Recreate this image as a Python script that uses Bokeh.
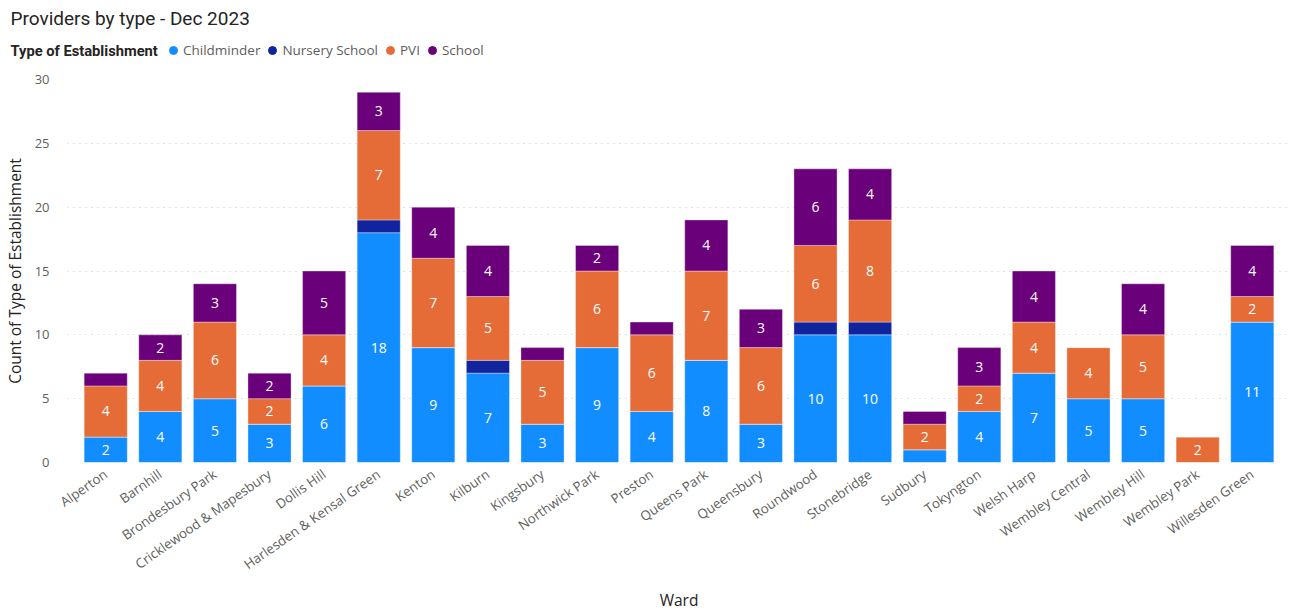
from bokeh.plotting import figure
from bokeh.layouts import column
from bokeh.models import (ColumnDataSource, FactorRange, Range1d, Legend, LegendItem, Label)
from bokeh.core.properties import value
from bokeh.embed import file_html
from bokeh.resources import INLINE
import numpy as np

wards = ["Alperton", "Barnhill", "Brondesbury Park", "Cricklewood & Mapesbury", "Dollis Hill",
         "Harlesden & Kensal Green", "Kenton", "Kilburn", "Kingsbury", "Northwick Park",
         "Preston", "Queens Park", "Queensbury", "Roundwood", "Stonebridge", "Sudbury",
         "Tokyngton", "Welsh Harp", "Wembley Central", "Wembley Hill", "Wembley Park",
         "Willesden Green"]
childminder = [2, 4, 5, 3, 6, 18, 9, 7, 3, 9, 4, 8, 3, 10, 10, 1, 4, 7, 5, 5, 0, 11]
nursery_school = [0, 0, 0, 0, 0, 1, 0, 1, 0, 0, 0, 0, 0, 1, 1, 0, 0, 0, 0, 0, 0, 0]
pvi = [4, 4, 6, 2, 4, 7, 7, 5, 5, 6, 6, 7, 6, 6, 8, 2, 2, 4, 4, 5, 2, 2]
school = [1, 2, 3, 2, 5, 3, 4, 4, 1, 2, 1, 4, 3, 6, 4, 1, 3, 4, 0, 4, 0, 4]

series = ["Childminder", "Nursery School", "PVI", "School"]
colors = ["#118DFF", "#12239E", "#E66C37", "#6B007B"]
y_ticks = [0, 5, 10, 15, 20, 25, 30]

TITLE_FONT = "Roboto"
FONT = "Open Sans"
GRAY = "#605E5C"
DARK = "#252423"

W, HEAD_H, MAIN_H = 1290, 69, 545
LEFT = 66  # main frame left edge

# ---------------- header (title + legend) ----------------
h = figure(width=W, height=HEAD_H, x_range=Range1d(0, W), y_range=Range1d(HEAD_H, 0),
           output_backend="svg", toolbar_location=None, title=None,
           x_axis_location=None, y_axis_location=None,
           min_border_left=0, min_border_right=0, min_border_top=0, min_border_bottom=0)
h.xgrid.grid_line_color = None
h.ygrid.grid_line_color = None
h.outline_line_color = None
h.frame_align = False

h.add_layout(Label(x=10, y=18, text="Providers by type - Dec 2023", text_font=TITLE_FONT,
                   text_font_size="19px", text_color=DARK, text_baseline="middle"))
h.add_layout(Label(x=10, y=50, text="Type of Establishment", text_font=TITLE_FONT,
                   text_font_size="14.7px", text_font_style="bold", text_color=DARK,
                   text_baseline="middle"))
items = []
for name, c in zip(series, colors):
    r = h.scatter(x=[np.nan], y=[np.nan], marker="circle", size=12, color=c)
    items.append(LegendItem(label=name, renderers=[r]))
legend = Legend(items=items, orientation="horizontal", location=(163, 9),
                label_text_font=FONT, label_text_font_size="13.5px",
                label_text_color=GRAY, glyph_width=20, glyph_height=20,
                label_standoff=0, spacing=2, padding=0, margin=0,
                border_line_color=None, background_fill_alpha=0)
h.add_layout(legend, "center")

# ---------------- main chart ----------------
src = ColumnDataSource(dict(ward=wards, Childminder=childminder,
                            **{"Nursery School": nursery_school}, PVI=pvi, School=school))

p = figure(width=W, height=MAIN_H, x_range=FactorRange(*wards), y_range=Range1d(0, 30),
           output_backend="svg", toolbar_location=None,
           min_border_left=LEFT, min_border_right=0, min_border_top=10, min_border_bottom=151)
p.frame_align = False
p.x_range.range_padding = 0.2
p.x_range.range_padding_units = "absolute"

p.vbar_stack(series, x="ward", width=0.79, source=src, color=colors,
             line_color="white", line_alpha=0.35, line_width=1)

# data labels (segments >= 2)
stack = np.vstack([childminder, nursery_school, pvi, school]).astype(float)
tops = np.cumsum(stack, axis=0)
lx, ly, lt = [], [], []
for si in range(stack.shape[0]):
    for wi, w in enumerate(wards):
        v = stack[si, wi]
        if v >= 2:
            lx.append(w)
            ly.append(tops[si, wi] - v / 2)
            lt.append(str(int(v)))
p.text(x=lx, y=ly, text=lt, text_color="white", text_align="center",
       text_baseline="middle", text_font=value(FONT), text_font_size="14px")

p.yaxis.ticker = y_ticks
p.yaxis.axis_line_color = None
p.yaxis.major_tick_line_color = None
p.yaxis.minor_tick_line_color = None
p.yaxis.major_label_text_font = FONT
p.yaxis.major_label_text_font_size = "13px"
p.yaxis.major_label_text_color = GRAY
p.yaxis.major_label_standoff = 12
p.yaxis.axis_label = "Count of Type of Establishment"
p.yaxis.axis_label_text_font = FONT
p.yaxis.axis_label_text_font_size = "15.5px"
p.yaxis.axis_label_text_font_style = "normal"
p.yaxis.axis_label_text_color = DARK
p.yaxis.axis_label_standoff = 6

p.xaxis.axis_line_color = None
p.xaxis.major_tick_line_color = None
p.xaxis.minor_tick_line_color = None
p.xaxis.major_label_orientation = 0.61
p.xaxis.major_label_text_font = FONT
p.xaxis.major_label_text_font_size = "13.3px"
p.xaxis.major_label_text_color = GRAY
p.xaxis.major_label_standoff = 4
p.xaxis.axis_label = "Ward"
p.xaxis.axis_label_text_font = FONT
p.xaxis.axis_label_text_font_size = "15.5px"
p.xaxis.axis_label_text_font_style = "normal"
p.xaxis.axis_label_text_color = DARK
p.xaxis.axis_label_standoff = 6

p.xgrid.grid_line_color = None
p.ygrid.grid_line_color = "#C8C6C4"
p.ygrid.grid_line_dash = "1 5"
p.ygrid.grid_line_width = 1
p.outline_line_color = None

layout = column(h, p, spacing=0)
open("out.html", "w").write(file_html(layout, INLINE))
